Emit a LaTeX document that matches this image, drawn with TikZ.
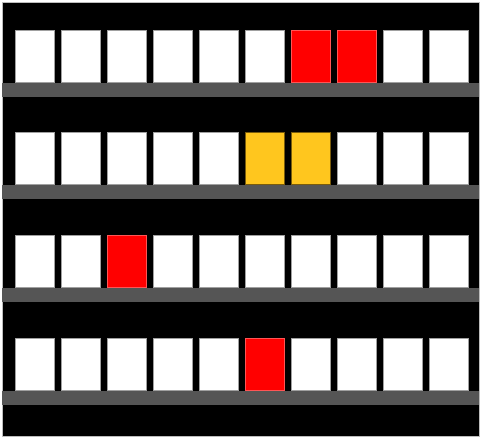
\documentclass[tikz,border=0pt]{standalone}
\usepackage{xcolor}
\usepackage{tikz}
\usetikzlibrary{positioning}
\definecolor{shelfgray}{HTML}{555555}
\definecolor{framegray}{HTML}{BDBDBD}
\definecolor{boxline}{HTML}{A0A0A0}
\definecolor{boxred}{HTML}{FF0000}
\definecolor{redline}{HTML}{FF5555}
\definecolor{boxyellow}{HTML}{FFC61E}
\definecolor{yellowline}{HTML}{7A5C0C}

\begin{document}
\begin{tikzpicture}[
  x=1pt, y=-1pt,
  wbox/.style={
    draw=boxline, fill=white, line width=0.8pt, inner sep=0pt,
    minimum width=39pt, minimum height=52pt, anchor=south west,
  },
  rbox/.style={wbox, draw=redline, fill=boxred},
  ybox/.style={wbox, draw=yellowline, fill=boxyellow},
  shelf/.style={
    fill=shelfgray, inner sep=0pt, minimum width=477pt, minimum height=14pt,
    anchor=north west,
  },
  % coloured cells, row-column
  cell 1-7/.style={rbox},
  cell 1-8/.style={rbox},
  cell 2-6/.style={ybox},
  cell 2-7/.style={ybox},
  cell 3-3/.style={rbox},
  cell 4-6/.style={rbox},
]
\useasboundingbox (0,0) rectangle (483,439);

\node[fill=black, draw=framegray, line width=0.8pt, inner sep=0pt,
  minimum width=477pt, minimum height=434pt, anchor=north west] (frame) at (2,2) {};

% shelves and boxes
\foreach \r/\y in {1/83, 2/185, 3/288, 4/391} {
  \node[shelf] (shelf\r) at (2,\y) {};
  \foreach \c in {1,...,10} {
    \node[wbox, cell \r-\c/.try] (box\r-\c) at (15+46*\c-46,\y) {};
  }
}

\end{tikzpicture}
\end{document}
